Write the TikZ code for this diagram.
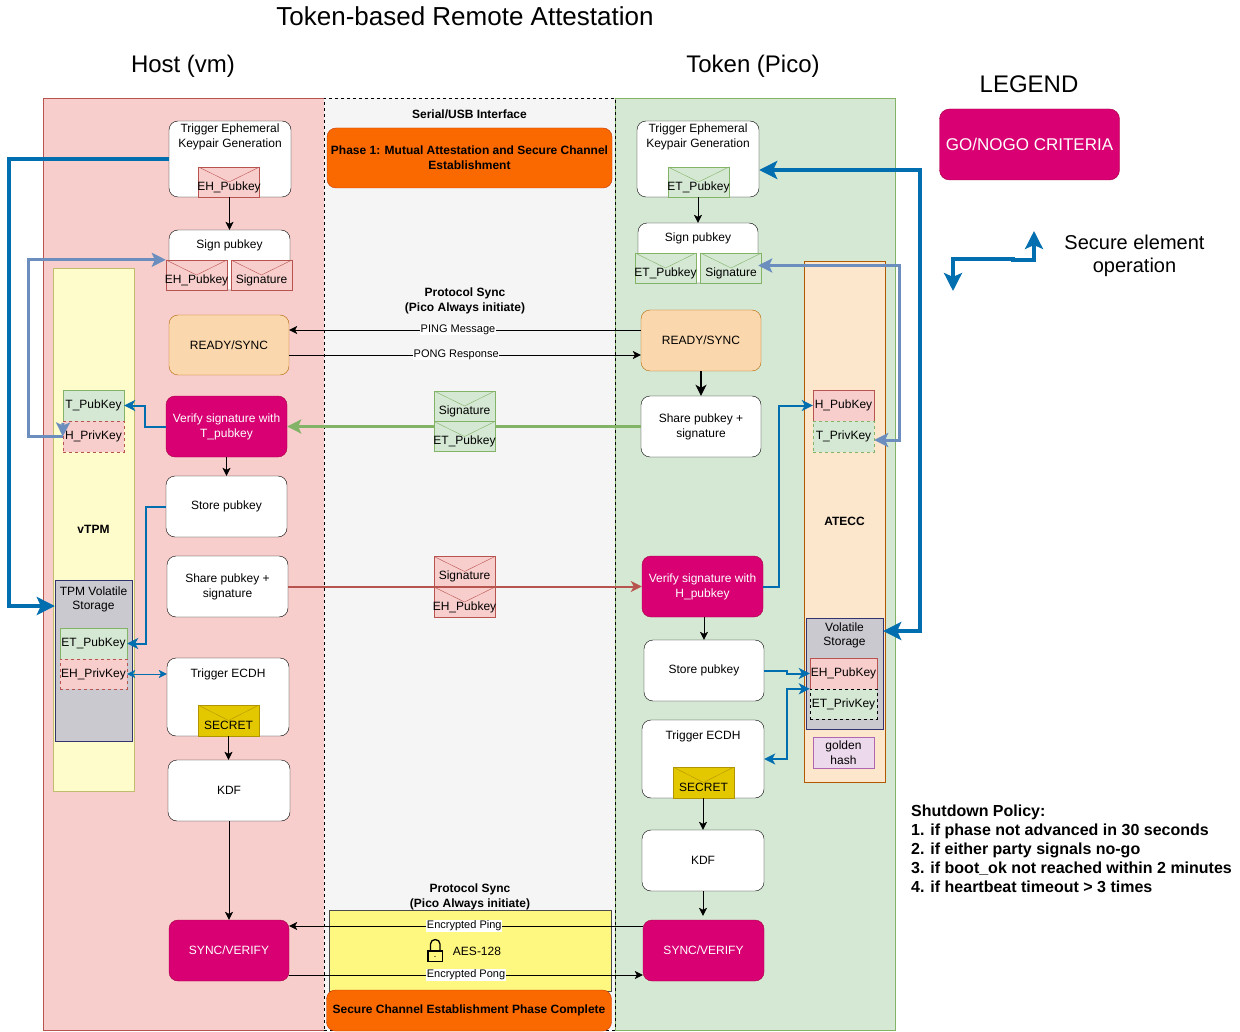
\documentclass[tikz,border=0pt]{standalone}
\usepackage{fontspec}
\setmainfont{Liberation Sans}
\usetikzlibrary{arrows.meta}
\definecolor{hostbg}{HTML}{F8CECC}
\definecolor{hostln}{HTML}{B85450}
\definecolor{tokbg}{HTML}{D5E8D4}
\definecolor{tokln}{HTML}{82B366}
\definecolor{syncbg}{HTML}{FAD7AC}
\definecolor{syncln}{HTML}{B46504}
\definecolor{gobg}{HTML}{D80073}
\definecolor{goln}{HTML}{A50040}
\definecolor{phasebg}{HTML}{FA6800}
\definecolor{phaseln}{HTML}{C73500}
\definecolor{keybg}{HTML}{E3C800}
\definecolor{keyln}{HTML}{B09500}
\definecolor{secblue}{HTML}{006EAF}
\definecolor{lnkblue}{HTML}{6C8EBF}
\begin{document}
\begin{tikzpicture}[x=1pt, y=-1pt, font=\fontsize{12}{15}\selectfont,
  >={Stealth[length=8pt,width=8pt,inset=2pt]},
  blk/.style={draw, rounded corners=9pt, align=center, inner sep=0pt, fill=white, minimum width=121pt, minimum height=61pt},
  sync/.style={blk, fill=syncbg, draw=syncln},
  gng/.style={blk, fill=gobg, draw=goln, text=white},
  phase/.style={draw=phaseln, fill=phasebg, rounded corners=9pt, align=center, inner sep=0pt, font=\fontsize{12}{15}\selectfont\bfseries},
  panel/.style={draw, inner sep=0pt, align=center},
  keybox/.style={draw, inner sep=0pt, minimum width=61pt, minimum height=31pt},
  env/.style={draw=#1, inner sep=0pt, minimum width=61pt, minimum height=30pt,
    path picture={\draw[#1] (path picture bounding box.north west) -- (path picture bounding box.center) -- (path picture bounding box.north east);}},
  envr/.style={env=hostln, fill=hostbg},
  envg/.style={env=tokln, fill=tokbg},
  envy/.style={env=keyln, fill=keybg},
  envtxt/.style={yshift=-5pt, inner sep=0pt},
  txt/.style={align=center, inner sep=0pt},
  msg/.style={fill=white, font=\fontsize{11}{13}\selectfont, inner sep=0.5pt},
  secA/.style={draw=secblue, line width=4pt, >={Stealth[length=18pt,width=18pt,inset=4pt]}},
  secB/.style={draw=secblue, line width=2pt, >={Stealth[length=11pt,width=11pt,inset=3pt]}},
  lnkA/.style={draw=lnkblue, line width=3pt, >={Stealth[length=14pt,width=14pt,inset=3pt]}}]
  \useasboundingbox (0,0) rectangle (1240,1032);
  % titles
  \node[txt, font=\fontsize{26}{30}\selectfont] (title) at (465,16) {Token-based Remote Attestation};
  \node[txt, font=\fontsize{24}{28}\selectfont] (hosttitle) at (183,66) {Host (vm)};
  \node[txt, font=\fontsize{24}{28}\selectfont] (toktitle) at (753,66) {Token (Pico)};
  % swimlanes
  \node[panel, fill=hostbg, draw=hostln, minimum width=281pt, minimum height=932pt] (host) at (183.5,564) {};
  \node[panel, fill=tokbg, draw=tokln, minimum width=280pt, minimum height=932pt] (tok) at (755,564) {};
  \node[panel, fill=black!4, dashed, minimum width=291pt, minimum height=932pt] (iface) at (469.5,564) {};
  \node[txt, font=\fontsize{12}{15}\selectfont\bfseries] (ifacetxt) at (469.5,114) {Serial/USB Interface};
  \node[phase, minimum width=285pt, minimum height=60pt] (phase1) at (469.5,158) {Phase 1: Mutual Attestation and Secure Channel\\Establishment};
  % vTPM
  \node[panel, fill=yellow!20!white, draw=yellow!60!black!70, minimum width=81pt, minimum height=523pt,
    label={[yshift=-267pt+5pt, font=\fontsize{12}{15}\selectfont\bfseries]center:{}}] (vtpm) at (93.5,529.5) {\textbf{vTPM}};
  \node[keybox, fill=tokbg, draw=tokln] (tpub) at (93.5,405.5) {T\_PubKey};
  \node[keybox, fill=hostbg, draw=hostln, dashed] (hpriv) at (93.5,436.5) {H\_PrivKey};
  \node[panel, fill=blue!5!gray!40, draw=blue!30!black!80, minimum width=77pt, minimum height=161pt,
    label={[yshift=61pt]center:{\begin{tabular}{@{}c@{}}TPM Volatile\\[-1.4pt]Storage\end{tabular}}}] (tpmvol) at (93.5,660.5) {};
  \node[keybox, fill=tokbg, draw=tokln, minimum width=67pt] (etpub) at (93.5,643.5) {ET\_PubKey};
  \node[keybox, fill=hostbg, draw=hostln, dashed, minimum width=67pt, minimum height=30pt] (ehpriv) at (93.5,674) {EH\_PrivKey};
  % ATECC
  \node[panel, fill=syncbg!60!white, draw=orange!70!black, minimum width=81pt, minimum height=521pt] (atecc) at (844.5,521.5) {\textbf{ATECC}};
  \node[keybox, fill=hostbg, draw=hostln] (hpub) at (843.5,405.5) {H\_PubKey};
  \node[keybox, fill=tokbg, draw=tokln, dashed] (tpriv) at (843.5,436.5) {T\_PrivKey};
  \node[panel, fill=blue!5!gray!40, draw=blue!30!black!80, minimum width=77pt, minimum height=111pt,
    label={[yshift=38pt]center:{\begin{tabular}{@{}c@{}}Volatile\\[-1.4pt]Storage\end{tabular}}}] (vol) at (844.5,673.5) {};
  \node[keybox, fill=hostbg, draw=hostln, minimum width=67pt] (ehpub) at (843.5,673.5) {EH\_PubKey};
  \node[keybox, fill=tokbg, dashed, minimum width=67pt, minimum height=30pt] (etpriv) at (843.5,704) {ET\_PrivKey};
  \node[keybox, fill=violet!15!white, draw=violet!60!white, align=center] (golden) at (843.5,752.5) {golden\\hash};
  % host column
  \node[blk, minimum width=122pt, minimum height=76pt,
    label={[txt, yshift=22.5pt]center:Trigger Ephemeral\\Keypair Generation}] (trigh) at (230,159) {};
  \node[envr, label={[envtxt]center:EH\_Pubkey}] (envh1) at (229,182) {};
  \node[blk, minimum height=60pt, label={[txt, yshift=15pt]center:Sign pubkey}] (signh) at (229.5,260) {};
  \node[envr, label={[envtxt]center:EH\_Pubkey}] (envh2) at (196.5,275) {};
  \node[envr, label={[envtxt]center:Signature}] (envh3) at (261.5,275) {};
  \node[sync, minimum width=120pt, minimum height=60pt] (readyh) at (229,345) {READY/SYNC};
  \node[gng] (verifyh) at (226.5,426.5) {Verify signature with\\T\_pubkey};
  \node[blk] (storeh) at (226.5,506.5) {Store pubkey};
  \node[blk] (shareh) at (227.5,586.5) {Share pubkey +\\signature};
  \node[blk, minimum width=122pt, minimum height=78pt, label={[txt, yshift=23pt]center:Trigger ECDH}] (ecdhh) at (228,697) {};
  \node[envy, minimum height=31pt, label={[envtxt]center:SECRET}] (sech) at (228.5,720.5) {};
  \node[blk, minimum width=122pt] (kdfh) at (229,790.5) {KDF};
  \node[gng, minimum width=120pt] (synch) at (229,950.5) {SYNC/VERIFY};
  % token column
  \node[blk, minimum width=122pt, minimum height=76pt,
    label={[txt, yshift=22.5pt]center:Trigger Ephemeral\\Keypair Generation}] (trigt) at (698,159) {};
  \node[envg, label={[envtxt]center:ET\_Pubkey}] (envt1) at (698.5,182) {};
  \node[blk, minimum width=120pt, minimum height=60pt, label={[txt, yshift=14.5pt]center:Sign pubkey}] (signt) at (698,253) {};
  \node[envg, label={[envtxt]center:ET\_Pubkey}] (envt2) at (665.5,268) {};
  \node[envg, label={[envtxt]center:Signature}] (envt3) at (731,268) {};
  \node[sync, minimum width=120pt] (readyt) at (701,340.5) {READY/SYNC};
  \node[blk, minimum width=120pt] (sharet) at (701,426.5) {Share pubkey +\\signature};
  \node[gng] (verifyt) at (702.5,586.5) {Verify signature with\\H\_pubkey};
  \node[blk, minimum width=120pt] (storet) at (704,670.5) {Store pubkey};
  \node[blk, minimum width=122pt, minimum height=78pt, label={[txt, yshift=23pt]center:Trigger ECDH}] (ecdht) at (703,759) {};
  \node[envy, minimum height=31pt, label={[envtxt]center:SECRET}] (sect) at (703.5,782.5) {};
  \node[blk, minimum width=122pt] (kdft) at (703,860.5) {KDF};
  \node[gng] (synct) at (703.5,950.5) {SYNC/VERIFY};
  % middle
  \node[txt, font=\fontsize{12}{15}\selectfont\bfseries] (synctxt) at (465,300.5) {Protocol Sync\\(Pico Always initiate)};
  \node[txt, font=\fontsize{12}{15}\selectfont\bfseries] (synctxt2) at (470,896.5) {Protocol Sync\\(Pico Always initiate)};
  \node[panel, fill=yellow!50!white, draw=black!70, minimum width=282pt, minimum height=81pt] (aes) at (470,950.5) {};
  \node[txt] (aestxt) at (477,951) {AES-128};
  \draw[line width=1.3pt] (428,951) rectangle (442.5,961.5);
  \draw[line width=1.3pt] (430.5,951) -- (430.5,944) arc[start angle=180, end angle=0, x radius=4.75, y radius=-4.5] -- (440,951);
  \fill (435,956.5) circle (0.6);
  \node[phase, minimum width=285pt, minimum height=41pt] (phase2) at (469,1010.5) {Secure Channel Establishment Phase Complete};
  % data flow
  \draw[->] (envh1.south -| signh.north) -- (signh.north);
  \draw[->] (envt1.south -| trigt.south) -- (signt.north -| trigt.south);
  \draw[->] (verifyh.south) -- (storeh.north);
  \draw[->] (sech.south) -- (sech.south |- kdfh.north);
  \draw[->] (kdfh.south) -- (synch.north);
  \draw[->] (verifyt.south -| storet.north) -- (storet.north);
  \draw[->] (sect.south -| kdft.north) -- (kdft.north);
  \draw[->, shorten >=4pt] (kdft.south) -- (synct.north -| kdft.south);
  \draw[->, line width=2pt, >={Stealth[length=11pt,width=11pt,inset=3pt]}] (readyt.south) -- (sharet.north);
  % ping and pong
  \draw[->] ([yshift=10.5pt]readyt.west) -- ([yshift=15pt]readyh.east) node[msg, pos=0.52] (ping) {PING Message};
  \draw[->] ([yshift=-10pt]readyh.east) -- ([yshift=-14.5pt]readyt.west) node[msg, pos=0.475] (pong) {PONG Response};
  \draw[->] ([yshift=24.5pt]synct.west) -- ([yshift=24.5pt]synch.east) node[msg, pos=0.505] (eping) {Encrypted Ping};
  \draw[->] ([yshift=-24.5pt]synch.east) -- ([yshift=-24.5pt]synct.west) node[msg, pos=0.5] (epong) {Encrypted Pong};
  % signatures on the wire
  \draw[->, draw=tokln, line width=3pt, >={Stealth[length=14pt,width=14pt,inset=3pt]}] (sharet.west) -- (verifyh.east);
  \draw[->, draw=hostln, line width=2pt, >={Stealth[length=11pt,width=11pt,inset=3pt]}] (shareh.east) -- (verifyt.west);
  \node[envg, label={[envtxt]center:Signature}] (envm1) at (464.5,406) {};
  \node[envg, label={[envtxt]center:ET\_Pubkey}] (envm2) at (464.5,436.5) {};
  \node[envr, label={[envtxt]center:Signature}] (envm3) at (464.5,571.5) {};
  \node[envr, label={[envtxt]center:EH\_Pubkey}] (envm4) at (464.5,602) {};
  % secure element operations
  \draw[secB, ->] (verifyh.west) -- ++(-21,0) |- (tpub.east);
  \draw[secB, ->] (storeh.west) -- ++(-20,0) |- (etpub.east);
  \draw[draw=secblue, <->] (ehpriv.east) -- (ecdhh.west |- ehpriv.east);
  \draw[secB, ->] (verifyt.east) -- ++(16,0) |- (hpub.west);
  \draw[secB, ->] (storet.east) -- ++(23,0) |- (ehpub.west);
  \draw[secB, <->] (ecdht.east) -- ++(23,0) |- (etpriv.north west);
  \draw[lnkA, ->] (hpriv.west) -- ++(-34,0) |- (envh2.north west);
  \draw[lnkA, ->] (63,423) -- (hpriv.west);
  \draw[lnkA, <->] ([yshift=-12.5pt]signt.east) -| (899,440) -- ([yshift=-3.5pt]tpriv.east);
  \draw[secA, ->] (trigh.west) -- (9,159) |- (tpmvol.west |- 0,606);
  \draw[secA, <->] ([yshift=-11pt]trigt.east) -| (920,631) -- (vol.east |- 0,631);
  % legend
  \node[txt, font=\fontsize{24}{28}\selectfont] (legend) at (1029,84) {LEGEND};
  \node[gng, rounded corners=10pt, minimum width=180pt, minimum height=71pt, font=\fontsize{17}{20}\selectfont] (gonogo) at (1029.5,144.5) {GO/NOGO CRITERIA};
  \node[txt, font=\fontsize{20}{23}\selectfont] (legendtxt) at (1134.5,255.5) {Secure element\\operation};
  \coordinate (lega) at (953,291);
  \coordinate (legb) at (1034,231);
  \draw[secA, <->] (lega) -- (953,259.5) -- (1013,259.5) -- (1013,260.5) -- (1034,260.5) -- (legb);
  % shutdown policy
  \node[txt, align=left, anchor=north west, font=\fontsize{16}{19}\selectfont\bfseries] (policy) at (911,805) {Shutdown Policy:\\1. if phase not advanced in 30 seconds\\2. if either party signals no-go\\3. if boot\_ok not reached within 2 minutes\\4. if heartbeat timeout > 3 times};
\end{tikzpicture}
\end{document}
